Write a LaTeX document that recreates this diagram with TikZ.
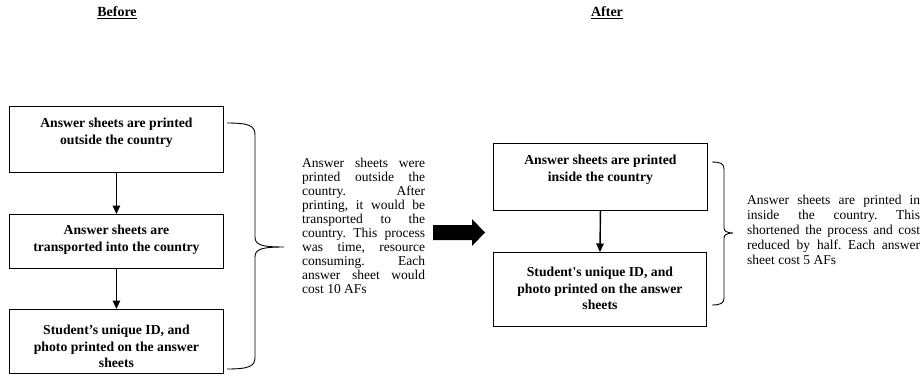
\documentclass[tikz,border=0pt]{standalone}
\usepackage{fontspec}
\setmainfont{Liberation Serif}
\usetikzlibrary{arrows.meta}
\frenchspacing
\newcommand\boxtxt[4]{\parbox[c][#2][t]{#1}{\centering\vspace*{#3}#4\par}}
\tikzset{
  flowbox/.style={draw=black, line width=0.9pt, inner sep=0pt, anchor=north west,
    font=\fontsize{13.7}{16.5}\selectfont\bfseries},
  flowarrow/.style={line width=1.4pt, -{Triangle[width=7.5pt,length=8.5pt]}},
  bracepath/.style={line width=0.9pt},
  para/.style={inner sep=0pt, anchor=base west},
  title/.style={inner sep=0pt, font=\fontsize{14}{16}\selectfont\bfseries}
}
\begin{document}
\begin{tikzpicture}[x=1pt,y=-1pt]
\useasboundingbox (0,0) rectangle (924,384);
% titles
\node[title] (before) at (117,13) {\underline{Before}};
\node[title] (after) at (607,13) {\underline{After}};
% left boxes
\node[flowbox] (l1) at (9,106) {\boxtxt{214pt}{66pt}{12pt}{Answer sheets are printed\\outside the country}};
\node[flowbox] (l2) at (9,214) {\boxtxt{214pt}{54pt}{11pt}{Answer sheets are\\transported into the country}};
\node[flowbox] (l3) at (9,309) {\boxtxt{214pt}{64pt}{16pt}{Student’s unique ID, and\\photo printed on the answer\\sheets}};
\draw[flowarrow] (l1.south) -- (l2.north);
\draw[flowarrow] (l2.south) -- (l3.north);
% left brace
\draw[bracepath] (227,123) .. controls (250,123) and (255,126) .. (255,135) -- (255,237)
  .. controls (255,245) and (262,247) .. (284,247)
  .. controls (262,247) and (255,249) .. (255,257) -- (255,357)
  .. controls (255,366) and (250,369) .. (227,369);
% left paragraph
\node[para] (ltext) at (302,167.5) {\parbox[t]{123pt}{\fontsize{13.5}{14}\selectfont
Answer sheets were\linebreak printed outside the\linebreak country. After\linebreak printing, it would be\linebreak transported to the\linebreak country. This process\linebreak was time, resource\linebreak consuming. Each\linebreak answer sheet would\linebreak cost 10 AFs}};
% big arrow
\fill[black] (433,225) -- (472,225) -- (472,219) -- (485,232.5) -- (472,246) -- (472,240) -- (433,240) -- cycle;
% right boxes
\node[flowbox] (r1) at (493,143) {\boxtxt{214pt}{67pt}{12pt}{Answer sheets are printed\\inside the country}};
\node[flowbox] (r2) at (493,252) {\boxtxt{213pt}{74pt}{15pt}{Student\textquotesingle s unique ID, and\\photo printed on the answer\\sheets}};
\draw[flowarrow] (r1.south) -- (r2.north);
% right brace
\draw[bracepath] (712,162) .. controls (721,162) and (724,164) .. (724,169) -- (724,228)
  .. controls (724,231) and (727,233) .. (733,233)
  .. controls (727,233) and (724,235) .. (724,238) -- (724,298)
  .. controls (724,303) and (721,305) .. (712,305);
% right paragraph
\node[para] (rtext) at (747,204.5) {\parbox[t]{173pt}{\fontsize{13.5}{15}\selectfont
Answer sheets are printed in\linebreak inside the country. This\linebreak shortened the process and cost\linebreak reduced by half. Each answer\linebreak sheet cost 5 AFs}};
\end{tikzpicture}
\end{document}
